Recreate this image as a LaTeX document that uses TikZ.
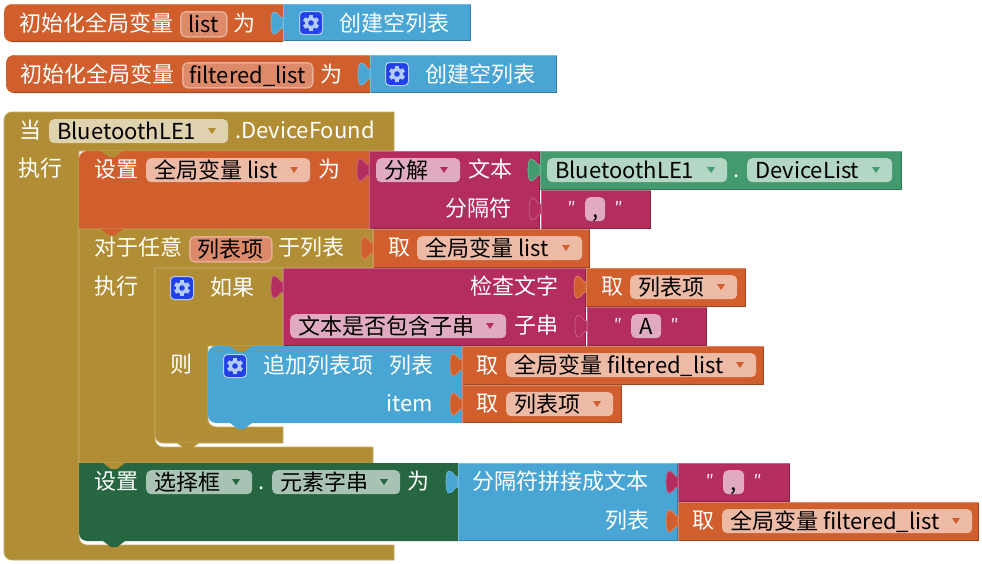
\documentclass[tikz,border=0pt]{standalone}
\usepackage{fontspec}
\setmainfont{Noto Sans CJK SC}
\usepackage{xcolor}
\definecolor{BlockOrange}{HTML}{D05F2D}
\definecolor{BlockBlue}{HTML}{49A6D4}
\definecolor{BlockPink}{HTML}{B32D5E}
\definecolor{BlockGreen}{HTML}{439A6E}
\definecolor{BlockForest}{HTML}{266641}
\definecolor{BlockOlive}{HTML}{B18E35}
\definecolor{FieldOrange}{HTML}{EDBAA6}
\definecolor{FieldVar}{HTML}{DC8A6A}
\definecolor{FieldPink}{HTML}{E0ABC0}
\definecolor{FieldGreen}{HTML}{B3D6C5}
\definecolor{FieldForest}{HTML}{A8C3B3}
\definecolor{FieldOlive}{HTML}{DFD2AE}
\definecolor{GearBlue}{HTML}{2242E8}
\definecolor{GearLight}{HTML}{B4CCF8}
\tikzset{
  blocktext/.style={text=white,font=\fontsize{22}{22}\selectfont,inner sep=0pt,text height=19pt,text depth=3pt,anchor=west},
  fieldbox/.style={rounded corners=5pt,minimum height=24pt,inner sep=0pt},
  fieldtext/.style={text=black,font=\fontsize{22}{22}\selectfont,inner sep=0pt,text height=19pt,text depth=3pt},
  gearbox/.style={rounded corners=4pt,fill=GearBlue,draw=GearLight,line width=1pt,minimum size=23pt,inner sep=0pt}
}
% tab on the left edge of a block: colour, edge x, top y
\newcommand{\puzzletab}[3]{
  \fill[#1,draw=#1!75!white,line width=.7pt] (#2,#3+7) .. controls (#2-3,#3+8) and (#2-5,#3+1) .. (#2-9,#3+1)
    .. controls (#2-11,#3+1) and (#2-12,#3+6) .. (#2-12,#3+12)
    .. controls (#2-12,#3+18) and (#2-11,#3+23) .. (#2-9,#3+23)
    .. controls (#2-5,#3+23) and (#2-3,#3+16) .. (#2,#3+17) -- cycle;
}
% notch: colour, left x, y
\newcommand{\notch}[3]{
  \fill[#1] (#2,#3) -- (#2+8,#3+6) -- (#2+14,#3+6) -- (#2+22,#3) -- cycle;
}
% colour, left, right, top, bottom
\newcommand{\valueblock}[5]{
  \fill[#1] (#2,#4) rectangle (#3,#5);
  \draw[#1!75!black,line width=1pt] (#3-.5,#4) -- (#3-.5,#5-.5) -- (#2,#5-.5);
  \draw[#1!75!white,line width=1pt] (#2+.5,#5) -- (#2+.5,#4+.5) -- (#3,#4+.5);
}
% left, right, top, bottom
\newcommand{\initblock}[4]{
  \fill[BlockOrange] (#1+90,#3) [rounded corners=8pt] -- (#1,#3) -- (#1,#4) -- (#1+90,#4) [sharp corners] -- (#2,#4) -- (#2,#3) -- cycle;
  \draw[BlockOrange!75!black,line width=1pt] (#1+8,#4-.5) -- (#2,#4-.5);
  \draw[BlockOrange!75!white,line width=1pt] (#1+8,#3+.5) -- (#2,#3+.5);
}
% name, left, right, top, fill, arrow colour, text
\newcommand{\dropfield}[7]{
  \node[fieldbox,fill=#5,minimum width={(#3-#2)*1pt},anchor=north west] (#1) at (#2,#4) {};
  \node[fieldtext,anchor=west,xshift=8pt] (#1txt) at (#1.west) {#7};
  \fill[#6] (#3-20,#4+9) -- (#3-12,#4+9) -- (#3-16,#4+15) -- cycle;
}
% name, left, right, top, text
\newcommand{\varfield}[5]{
  \node[fieldbox,fill=FieldVar,draw=FieldVar!70!white,line width=1.5pt,minimum width={(#3-#2-2)*1pt},minimum height=25pt,anchor=north west] (#1) at (#2+1,#4+1) {};
  \node[fieldtext] (#1txt) at (#1.center) {#5};
}
% name, left, right, top, text
\newcommand{\textfield}[5]{
  \node[fieldbox,fill=FieldPink,minimum width={(#3-#2)*1pt},anchor=north west] (#1) at (#2,#4) {};
  \node[fieldtext] (#1txt) at (#1.center) {#5};
  \node[blocktext,anchor=east,xshift=-9pt,yshift=3pt,font=\fontsize{17}{17}\selectfont] (#1open) at (#1.west) {\itshape ″};
  \node[blocktext,anchor=west,xshift=9pt,yshift=3pt,font=\fontsize{17}{17}\selectfont] (#1close) at (#1.east) {\itshape ″};
}
% name, centre x, centre y
\newcommand{\gearicon}[3]{
  \node[gearbox] (#1) at (#2,#3) {};
  \foreach \a in {0,60,...,300}{
    \fill[GearLight,rotate around={\a:(#2,#3)}] (#2-2,#3-8) rectangle (#2+2,#3-4);
  }
  \fill[GearLight] (#2,#3) circle[radius=6];
  \fill[GearBlue] (#2,#3) circle[radius=2.8];
}
\begin{document}
\begin{tikzpicture}[x=1pt,y=-1pt]
  \useasboundingbox (0,0) rectangle (982,563);

  % first global
  \initblock{4}{283}{4}{42}
  \node[blocktext] (initA) at (19,23) {初始化全局变量};
  \varfield{listvar}{179}{227}{10}{list}
  \node[blocktext] (initAto) at (233,23) {为};
  \valueblock{BlockBlue}{283}{471}{4}{41}
  \puzzletab{BlockBlue}{283}{11}
  \gearicon{gearA}{311}{23}
  \node[blocktext] (emptyA) at (339,23) {创建空列表};

  % second global
  \initblock{6}{370}{55}{93}
  \node[blocktext] (initB) at (20,74) {初始化全局变量};
  \varfield{filteredvar}{181}{313}{61}{filtered\_list}
  \node[blocktext] (initBto) at (320,74) {为};
  \valueblock{BlockBlue}{370}{557}{55}{93}
  \puzzletab{BlockBlue}{370}{62}
  \gearicon{gearB}{397}{74}
  \node[blocktext] (emptyB) at (425,74) {创建空列表};

  % event frame
  \filldraw[fill=BlockOlive,draw=BlockOlive!75!white,line width=.7pt] (100,112) [rounded corners=8pt] -- (4,112) -- (4,560) -- (100,560) [sharp corners] -- (394,560) -- (394,545) -- (100,545) [rounded corners=8pt] -- (79,545) -- (79,300) [sharp corners] -- (79,151) -- (394,151) -- (394,112) -- cycle;
  \node[blocktext] (whenlabel) at (19,130) {当};
  \dropfield{blefield}{49}{228}{119}{FieldOlive}{BlockOlive}{BluetoothLE1}
  \node[blocktext] (foundlabel) at (235,130) {.DeviceFound};
  \node[blocktext] (dolabel) at (18,168) {执行};

  % set list
  \fill[BlockOrange] (200,151) [rounded corners=8pt] -- (79,151) [sharp corners] -- (79,229) -- (369,229) -- (369,151) -- cycle;
  \notch{BlockOlive}{101}{151}
  \node[blocktext] (setlabel) at (94,169) {设置};
  \dropfield{globallist}{146}{310}{158}{FieldOrange}{BlockOrange}{全局变量 list}
  \node[blocktext] (setto) at (318,169) {为};

  \valueblock{BlockPink}{369}{540}{151}{229}
  \puzzletab{BlockPink}{369}{158}
  \dropfield{splitfield}{376}{460}{158}{FieldPink}{BlockPink}{分解}
  \node[blocktext] (textlabel) at (468,169) {文本};
  \node[blocktext] (seplabel) at (445,208) {分隔符};
  \valueblock{BlockGreen}{540}{902}{151}{190}
  \puzzletab{BlockGreen}{540}{158}
  \dropfield{blelist}{547}{727}{158}{FieldGreen}{BlockGreen}{BluetoothLE1}
  \node[blocktext] (dotA) at (733,169) {.};
  \dropfield{devicelist}{747}{892}{158}{FieldGreen}{BlockGreen}{DeviceList}
  \valueblock{BlockPink}{541}{651}{190}{229}
  \puzzletab{BlockPink}{541}{197}
  \textfield{commaA}{585}{605}{197}{,}

  % for each
  \filldraw[fill=BlockOlive,draw=BlockOlive!75!white,line width=.7pt] (79,229) -- (373,229) -- (373,268) -- (155,268) [rounded corners=8pt] -- (155,447) [sharp corners] -- (373,447) -- (373,463) -- (79,463) -- cycle;
  \notch{BlockOrange}{101}{229}
  \node[blocktext] (foreachlabel) at (94,247) {对于任意};
  \varfield{itemvar}{188}{272}{235}{列表项}
  \node[blocktext] (inlist) at (278,247) {于列表};
  \valueblock{BlockOrange}{373}{590}{229}{268}
  \puzzletab{BlockOrange}{373}{236}
  \node[blocktext] (getA) at (388,247) {取};
  \dropfield{getlist}{417}{582}{236}{FieldOrange}{BlockOrange}{全局变量 list}
  \node[blocktext] (dolabelB) at (94,286) {执行};

  % if
  \filldraw[fill=BlockOlive,draw=BlockOlive!75!white,line width=.7pt] (155,268) -- (283,268) -- (283,346) -- (208,346) [rounded corners=8pt] -- (208,427) [sharp corners] -- (283,427) -- (283,443) -- (200,443) [rounded corners=8pt] -- (155,443) [sharp corners] -- cycle;
  \notch{BlockOlive}{177}{443}
  \gearicon{gearC}{182}{288}
  \node[blocktext] (iflabel) at (210,287) {如果};
  \valueblock{BlockPink}{283}{586}{268}{346}
  \puzzletab{BlockPink}{283}{275}
  \node[blocktext] (checklabel) at (470,286) {检查文字};
  \dropfield{containsfield}{290}{506}{314}{FieldPink}{BlockPink}{文本是否包含子串}
  \node[blocktext] (sublabel) at (514,325) {子串};
  \valueblock{BlockOrange}{586}{746}{268}{307}
  \puzzletab{BlockOrange}{586}{275}
  \node[blocktext] (getB) at (601,286) {取};
  \dropfield{getitem}{630}{737}{275}{FieldOrange}{BlockOrange}{列表项}
  \valueblock{BlockPink}{587}{707}{307}{346}
  \puzzletab{BlockPink}{587}{314}
  \textfield{letterA}{631}{661}{314}{A}
  \node[blocktext] (thenlabel) at (170,364) {则};

  % add item
  \fill[BlockBlue] (300,346) [rounded corners=8pt] -- (208,346) -- (208,423) -- (300,423) [sharp corners] -- (462,423) -- (462,346) -- cycle;
  \notch{BlockOlive}{230}{346}
  \notch{BlockBlue}{230}{423}
  \gearicon{gearD}{235}{366}
  \node[blocktext] (addlabel) at (263,365) {追加列表项};
  \node[blocktext] (listlabel) at (389,365) {列表};
  \node[blocktext] (itemlabel) at (386,403) {item};
  \valueblock{BlockOrange}{462}{764}{346}{385}
  \puzzletab{BlockOrange}{462}{353}
  \node[blocktext] (getC) at (476,365) {取};
  \dropfield{getfiltered}{506}{756}{353}{FieldOrange}{BlockOrange}{全局变量 filtered\_list}
  \valueblock{BlockOrange}{462}{622}{385}{423}
  \puzzletab{BlockOrange}{462}{392}
  \node[blocktext] (getD) at (476,403) {取};
  \dropfield{getitemB}{506}{613}{392}{FieldOrange}{BlockOrange}{列表项}

  % set elements
  \fill[BlockForest] (200,463) -- (79,463) [rounded corners=8pt] -- (79,541) [sharp corners] -- (458,541) -- (458,463) -- cycle;
  \notch{BlockForest}{103}{541}
  \notch{BlockOlive}{103}{463}
  \node[blocktext] (setlabelB) at (94,481) {设置};
  \dropfield{pickerfield}{146}{252}{470}{FieldForest}{BlockForest}{选择框}
  \node[blocktext] (dotB) at (258,481) {.};
  \dropfield{elementsfield}{272}{400}{470}{FieldForest}{BlockForest}{元素字串}
  \node[blocktext] (settoB) at (407,481) {为};
  \valueblock{BlockBlue}{458}{678}{463}{541}
  \puzzletab{BlockBlue}{458}{470}
  \node[blocktext] (joinlabel) at (472,481) {分隔符拼接成文本};
  \node[blocktext] (joinlist) at (605,520) {列表};
  \valueblock{BlockPink}{678}{790}{463}{502}
  \puzzletab{BlockPink}{678}{470}
  \textfield{commaB}{723}{744}{470}{,}
  \valueblock{BlockOrange}{678}{979}{502}{541}
  \puzzletab{BlockOrange}{678}{509}
  \node[blocktext] (getE) at (692,520) {取};
  \dropfield{getfilteredB}{722}{972}{509}{FieldOrange}{BlockOrange}{全局变量 filtered\_list}
\end{tikzpicture}
\end{document}
